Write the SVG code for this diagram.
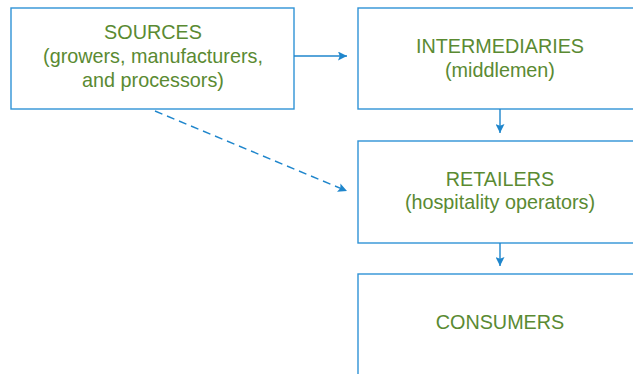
<svg xmlns="http://www.w3.org/2000/svg" width="633" height="374" viewBox="0 0 633 374">
<style>
.box{fill:#fff;stroke:#2f93d6;stroke-width:1.4}
.t{font-family:"Liberation Sans",Arial,sans-serif;font-size:19.8px;fill:#5a8a32;text-anchor:middle}
.c{stroke:#1f86cc;stroke-width:1.4;fill:none}
</style>
<defs>
<marker id="ah" viewBox="0 0 10 10" refX="10" refY="5" markerWidth="9" markerHeight="9" markerUnits="userSpaceOnUse" orient="auto">
<path d="M0,0 L10,5 L0,10 L2,5 Z" fill="#1f86cc"/>
</marker>
</defs>
<rect width="633" height="374" fill="#fff"/>
<g id="sources">
<rect class="box" x="11" y="8" width="283" height="101"/>
<text class="t" x="153" y="39">SOURCES</text>
<text class="t" x="153" y="63">(growers, manufacturers,</text>
<text class="t" x="153" y="87">and processors)</text>
</g>
<g id="intermediaries">
<rect class="box" x="358" y="8" width="284" height="101"/>
<text class="t" x="500" y="53">INTERMEDIARIES</text>
<text class="t" x="500" y="77">(middlemen)</text>
</g>
<g id="retailers">
<rect class="box" x="358" y="141" width="284" height="102"/>
<text class="t" x="500" y="186">RETAILERS</text>
<text class="t" x="500" y="209">(hospitality operators)</text>
</g>
<g id="consumers">
<rect class="box" x="358" y="274" width="284" height="120"/>
<text class="t" x="500" y="329">CONSUMERS</text>
</g>
<g id="connectors">
<line class="c" x1="294" y1="56" x2="347" y2="56" marker-end="url(#ah)"/>
<line class="c" x1="500" y1="109" x2="500" y2="133" marker-end="url(#ah)"/>
<line class="c" x1="500" y1="243" x2="500" y2="266" marker-end="url(#ah)"/>
<line class="c" x1="155" y1="111" x2="347" y2="191" stroke-dasharray="8,5" marker-end="url(#ah)"/>
</g>
</svg>
